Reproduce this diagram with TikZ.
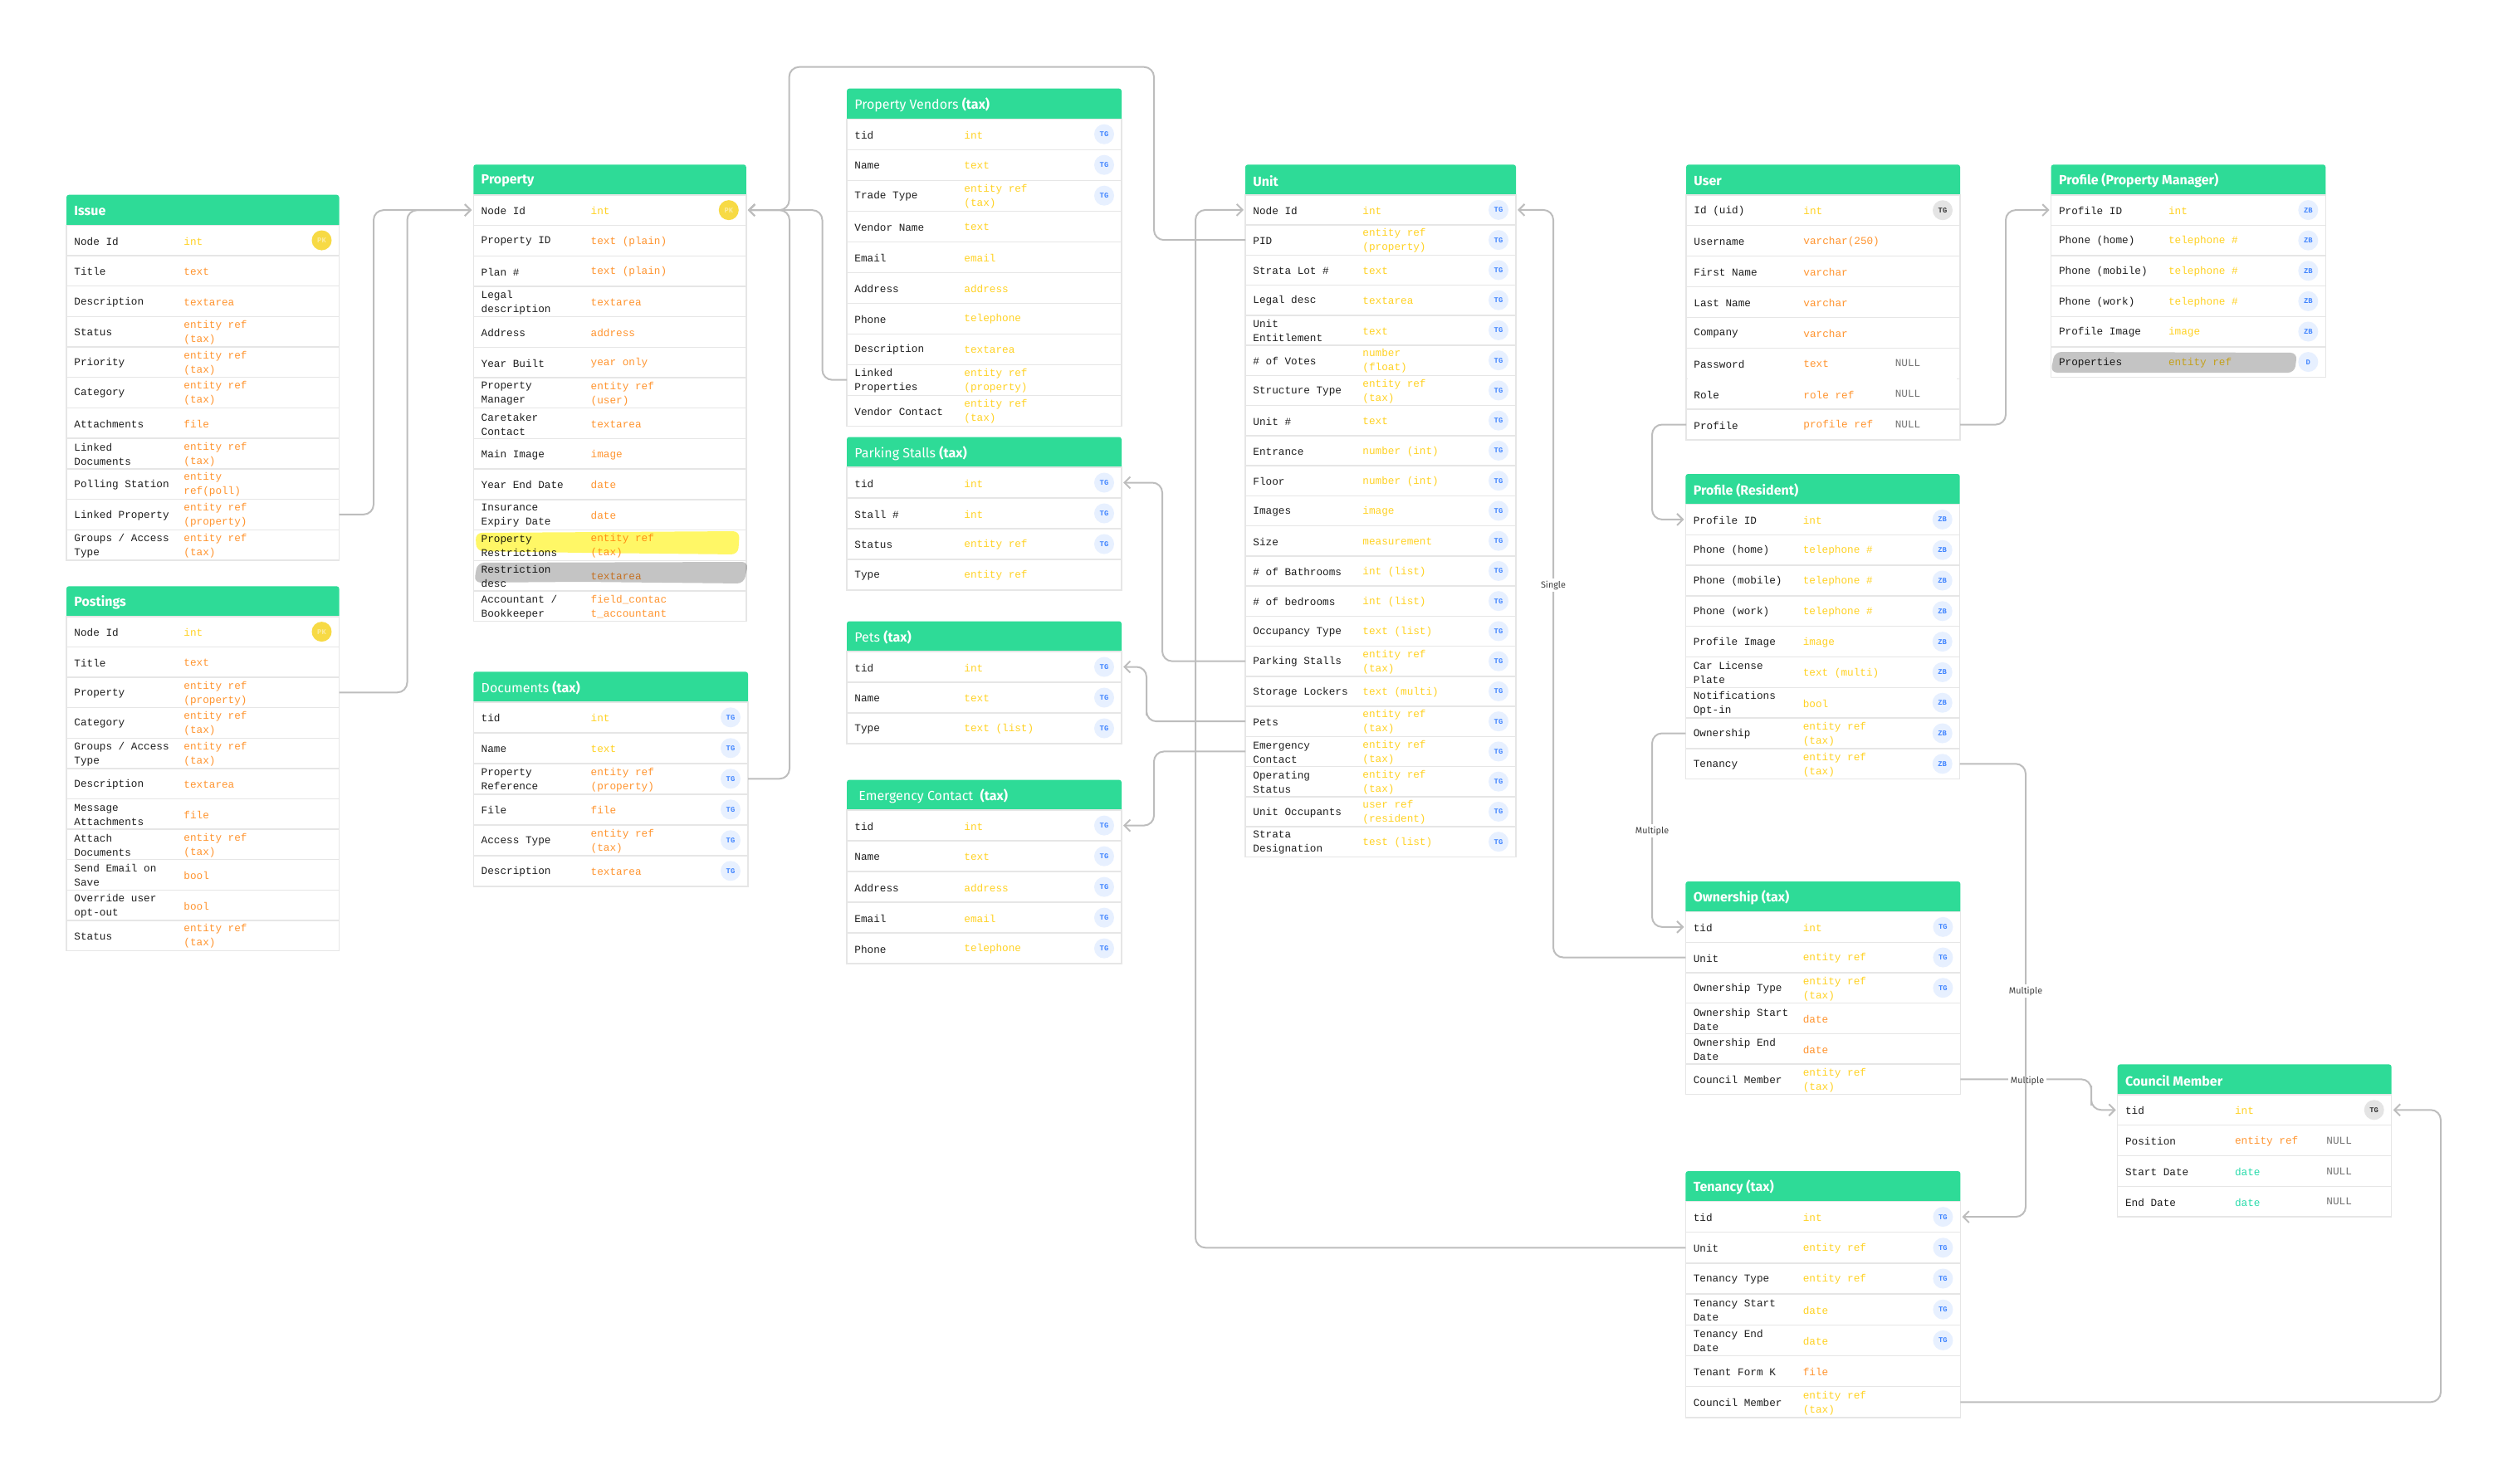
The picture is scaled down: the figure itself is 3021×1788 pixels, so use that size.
\documentclass[tikz,border=0pt]{standalone}
\usepackage{fontspec}
\setmainfont{Fira Sans}
\setmonofont{Liberation Mono}
\usetikzlibrary{positioning, arrows.meta}

\definecolor{headgreen}{HTML}{2EDB97}
\definecolor{rowline}{HTML}{E6E6E6}
\definecolor{linkgrey}{HTML}{BDBDBD}
\definecolor{yel}{HTML}{FFD224}
\definecolor{org}{HTML}{FF9530}
\definecolor{tea}{HTML}{2BDCAC}
\definecolor{tagblue}{HTML}{E7F0FF}
\definecolor{tagink}{HTML}{3F84FF}
\definecolor{tagyel}{HTML}{F7DA45}
\definecolor{taggrey}{HTML}{E4E4E4}

% name, x, y, width, row pitch, title, rows
\newcommand{\ertable}[7]{
  \begin{scope}[shift={(#2,#3)}]
    \node[headbox, minimum width=#4*0.5pt] (#1-head) at (0,0) {};
    \foreach \fld/\typ/\tcol/\bdg [count=\i] in {#7} {
      \node[rowbox, minimum width=#4*0.5pt, minimum height=#5*0.5pt] (#1-\i) at (0,{36.5+(\i-1)*#5}) {};
      \node[fldtext, right=4.5pt of #1-\i.west, yshift=-0.5pt] (#1-\i-f) {\fld};
      \node[typtext, text=\tcol, right=70.5pt of #1-\i.west, yshift=-0.5pt] (#1-\i-t) {\typ};
      \node[name=#1-\i-b, at={([xshift=-10.5pt]#1-\i.east)}, tag\bdg];
    }
    \node[headtext] (#1-title) at (9,19.5) {#6};
  \end{scope}
}

\begin{document}
\begin{tikzpicture}[x=0.5pt,y=-0.5pt,shorten >=1pt,>={Straight Barb[length=3.5pt,width=7pt]},
    headbox/.style={anchor=north west,fill=headgreen,rounded corners=1.5pt,minimum height=21pt,inner sep=0,outer sep=0},
    headtext/.style={anchor=west,text=white,inner sep=0,font=\fontsize{8}{10}\selectfont},
    rowbox/.style={anchor=north west,draw=rowline,fill=white,line width=0.7pt,inner sep=0,outer sep=0},
    fldtext/.style={align=left,inner sep=0,text=black!88,font=\ttfamily\fontsize{6.35}{8.5}\selectfont},
    typtext/.style={align=left,inner sep=0,font=\ttfamily\fontsize{6.35}{8.5}\selectfont},
    tagbox/.style={circle,minimum size=12pt,inner sep=0,font=\ttfamily\bfseries\fontsize{4.4}{5}\selectfont},
    tagTG/.style={tagbox,fill=tagblue,text=tagink,node contents={TG}},
    tagZB/.style={tagbox,fill=tagblue,text=tagink,node contents={ZB}},
    tagD/.style={tagbox,fill=tagblue,text=tagink,node contents={D}},
    tagPK/.style={tagbox,fill=tagyel,text=tagyel!50,node contents={PK}},
    tagGT/.style={tagbox,fill=taggrey,text=black!80,node contents={TG}},
    tagN/.style={xshift=-21pt,inner sep=0,text=black!55,font=\ttfamily\fontsize{6.35}{8.5}\selectfont,node contents={NULL}},
    tagX/.style={inner sep=0,node contents={}},
    link/.style={draw=linkgrey,line width=1pt,rounded corners=6pt},
    linklabel/.style={fill=white,inner sep=1.5pt,text=black!75,font=\fontsize{5.4}{6}\selectfont},
    marker/.style={blend mode=multiply,rounded corners=4pt}]
  \useasboundingbox (0,0) rectangle (3021,1788);

  \ertable{iss}{80}{234.7}{328.5}{36.7}{\textbf{Issue}}{
    Node Id/int/yel/PK, Title/text/org/X, Description/textarea/org/X,
    Status/entity ref\\(tax)/org/X, Priority/entity ref\\(tax)/org/X, Category/entity ref\\(tax)/org/X,
    Attachments/file/org/X, Linked\\Documents/entity ref\\(tax)/org/X,
    Polling Station/entity\\ref(poll)/org/X, Linked Property/entity ref\\(property)/org/X,
    {Groups / Access\\Type}/entity ref\\(tax)/org/X}

  \ertable{post}{80}{706.3}{328.5}{36.6}{\textbf{Postings}}{
    Node Id/int/yel/PK, Title/text/org/X, Property/entity ref\\(property)/org/X,
    Category/entity ref\\(tax)/org/X, {Groups / Access\\Type}/entity ref\\(tax)/org/X,
    Description/textarea/org/X, Message\\Attachments/file/org/X, Attach\\Documents/entity ref\\(tax)/org/X,
    Send Email on\\Save/bool/org/X, Override user\\opt-out/bool/org/X, Status/entity ref\\(tax)/org/X}

  \ertable{prop}{570.3}{198.3}{328.5}{36.7}{\textbf{Property}}{
    Node Id/int/yel/PK, Property ID/text (plain)/org/X, Plan \#/text (plain)/org/X,
    Legal\\description/textarea/org/X, Address/address/org/X, Year Built/year only/org/X,
    Property\\Manager/entity ref\\(user)/org/X, Caretaker\\Contact/textarea/org/X,
    Main Image/image/org/X, Year End Date/date/org/X, Insurance\\Expiry Date/date/org/X,
    Property\\Restrictions/entity ref\\(tax)/org/X, Restriction\\desc/textarea/org/X,
    {Accountant /\\Bookkeeper}/field\_contac\\t\_accountant/org/X}

  \ertable{doc}{570.3}{809.3}{330.7}{37}{Documents \textbf{(tax)}}{
    tid/int/yel/TG, Name/text/yel/TG, Property\\Reference/entity ref\\(property)/org/TG,
    File/file/org/TG, Access Type/entity ref\\(tax)/org/TG, Description/textarea/org/TG}

  \ertable{ven}{1020}{106.7}{331}{37}{Property Vendors \textbf{(tax)}}{
    tid/int/yel/TG, Name/text/yel/TG, Trade Type/entity ref\\(tax)/yel/TG,
    Vendor Name/text/yel/X, Email/email/yel/X, Address/address/yel/X, Phone/telephone/yel/X,
    Description/textarea/yel/X, Linked\\Properties/entity ref\\(property)/yel/X,
    Vendor Contact/entity ref\\(tax)/yel/X}

  \ertable{park}{1020}{526.5}{331}{37}{Parking Stalls \textbf{(tax)}}{
    tid/int/yel/TG, Stall \#/int/yel/TG, Status/entity ref/yel/TG, Type/entity ref/yel/X}

  \ertable{pets}{1020}{748.5}{331}{37}{Pets \textbf{(tax)}}{
    tid/int/yel/TG, Name/text/yel/TG, Type/text (list)/yel/TG}

  \ertable{emer}{1020}{939.6}{331}{37}{\hspace{2.5pt}Emergency Contact\ \ \textbf{(tax)}}{
    tid/int/yel/TG, Name/text/yel/TG, Address/address/yel/TG, Email/email/yel/TG, Phone/telephone/yel/TG}

  \ertable{unit}{1500}{198.3}{326}{36.25}{\textbf{Unit}}{
    Node Id/int/yel/TG, PID/entity ref\\(property)/yel/TG, Strata Lot \#/text/yel/TG,
    Legal desc/textarea/yel/TG, Unit\\Entitlement/text/yel/TG, \# of Votes/number\\(float)/yel/TG,
    Structure Type/entity ref\\(tax)/yel/TG, Unit \#/text/yel/TG, Entrance/number (int)/yel/TG,
    Floor/number (int)/yel/TG, Images/image/yel/TG, Size/measurement/yel/TG,
    \# of Bathrooms/int (list)/yel/TG, \# of bedrooms/int (list)/yel/TG, Occupancy Type/text (list)/yel/TG,
    Parking Stalls/entity ref\\(tax)/yel/TG, Storage Lockers/text (multi)/yel/TG, Pets/entity ref\\(tax)/yel/TG,
    Emergency\\Contact/entity ref\\(tax)/yel/TG, Operating\\Status/entity ref\\(tax)/yel/TG,
    Unit Occupants/user ref\\(resident)/yel/TG, Strata\\Designation/test (list)/yel/TG}

  \ertable{usr}{2031}{198.3}{330}{36.9}{\textbf{User}}{
    Id (uid)/int/yel/GT, Username/varchar(250)/org/X, First Name/varchar/org/X, Last Name/varchar/org/X,
    Company/varchar/org/X, Password/text/org/N, Role/role ref/org/N, Profile/profile ref/org/N}
  \draw[white,line width=1pt] ([xshift=1pt]usr-6.south west) -- ([xshift=-1pt]usr-6.south east);

  \ertable{pm}{2470.6}{198.3}{330.7}{36.6}{\textbf{Profile (Property Manager)}}{
    Profile ID/int/yel/ZB, Phone (home)/telephone \#/yel/ZB, Phone (mobile)/telephone \#/yel/ZB,
    Phone (work)/telephone \#/yel/ZB, Profile Image/image/yel/ZB, Properties/entity ref/yel/D}

  \ertable{res}{2030.4}{571}{330.3}{36.8}{\textbf{Profile (Resident)}}{
    Profile ID/int/yel/ZB, Phone (home)/telephone \#/yel/ZB, Phone (mobile)/telephone \#/yel/ZB,
    Phone (work)/telephone \#/yel/ZB, Profile Image/image/yel/ZB, Car License\\Plate/text (multi)/yel/ZB,
    Notifications\\Opt-in/bool/yel/ZB, Ownership/entity ref\\(tax)/yel/ZB, Tenancy/entity ref\\(tax)/yel/ZB}

  \ertable{own}{2030.4}{1062}{331}{36.7}{\textbf{Ownership (tax)}}{
    tid/int/yel/TG, Unit/entity ref/yel/TG, Ownership Type/entity ref\\(tax)/yel/TG,
    Ownership Start\\Date/date/org/X, Ownership End\\Date/date/org/X, Council Member/entity ref\\(tax)/yel/X}

  \ertable{ten}{2030.4}{1411}{331}{37.2}{\textbf{Tenancy (tax)}}{
    tid/int/yel/TG, Unit/entity ref/yel/TG, Tenancy Type/entity ref/yel/TG, Tenancy Start\\Date/date/yel/TG,
    Tenancy End\\Date/date/yel/TG, Tenant Form K/file/org/X, Council Member/entity ref\\(tax)/yel/X}

  \ertable{cm}{2550.7}{1282.4}{330}{36.8}{\textbf{Council Member}}{
    tid/int/yel/GT, Position/entity ref/org/N, Start Date/date/tea/N, End Date/date/tea/N}

  % marker strokes
  \fill[marker,fill=yellow!60] (572.6,642) -- (891,640) -- (889,668) -- (700,666) -- (574,664) -- cycle;
  \fill[marker,fill=black!23] (575,678) -- (901.6,677) -- (896,703) -- (700,701) -- (571,702) -- cycle;
  \fill[marker,fill=black!23] (2475,424) -- (2767,425) -- (2764,449) -- (2470,449) -- cycle;

  % connectors
  \draw[link,->] (iss-10.east) -| (450,400) |- (prop-1.west);
  \draw[link,->] (post-3.east) -| (490.5,500) |- (prop-1.west);
  \draw[link,->] (doc-3.east) -| (951,600) |- (prop-1.east);
  \draw[link,->] (unit-2.west) -| (1390,80.7) -| (950.6,200) |- (prop-1.east);
  \draw[link,->] (ven-9.west) -| (990.5,400) |- (prop-1.east);
  \draw[link,->] (ten-2.west) -| (1440,800) |- (unit-1.west);
  \draw[link,->] (own-2.west) -| (1871,700) |- (unit-1.east);
  \draw[link,->] (unit-16.west) -| (1400,700) |- (park-1.east);
  \draw[link,->] (unit-18.west) -| (1381,850) |- (pets-1.east);
  \draw[link,->] (unit-19.west) -| (1390,950) |- (emer-1.east);
  \draw[link,->] (usr-8.east) -| (2416,400) |- (pm-1.west);
  \draw[link,->] (usr-8.west) -| (1990,570) |- (res-1.west);
  \draw[link,->] (res-8.west) -| (1990,1000) |- (own-1.west);
  \draw[link,->] (own-6.east) -| (2519,1320) |- (cm-1.west);
  \node[linklabel] (lblCouncil) at (2442,1302) {Multiple};
  \draw[link,->] (res-9.east) -| (2440,1200) |- (ten-1.east);
  \draw[link,->] (ten-7.east) -| (2940,1500) |- (cm-1.east);

  \node[linklabel] (lblSingle) at (1871,705) {Single};
  \node[linklabel] (lblOwner) at (1990,1001) {Multiple};
  \node[linklabel] (lblTenant) at (2440,1194) {Multiple};
\end{tikzpicture}
\end{document}
